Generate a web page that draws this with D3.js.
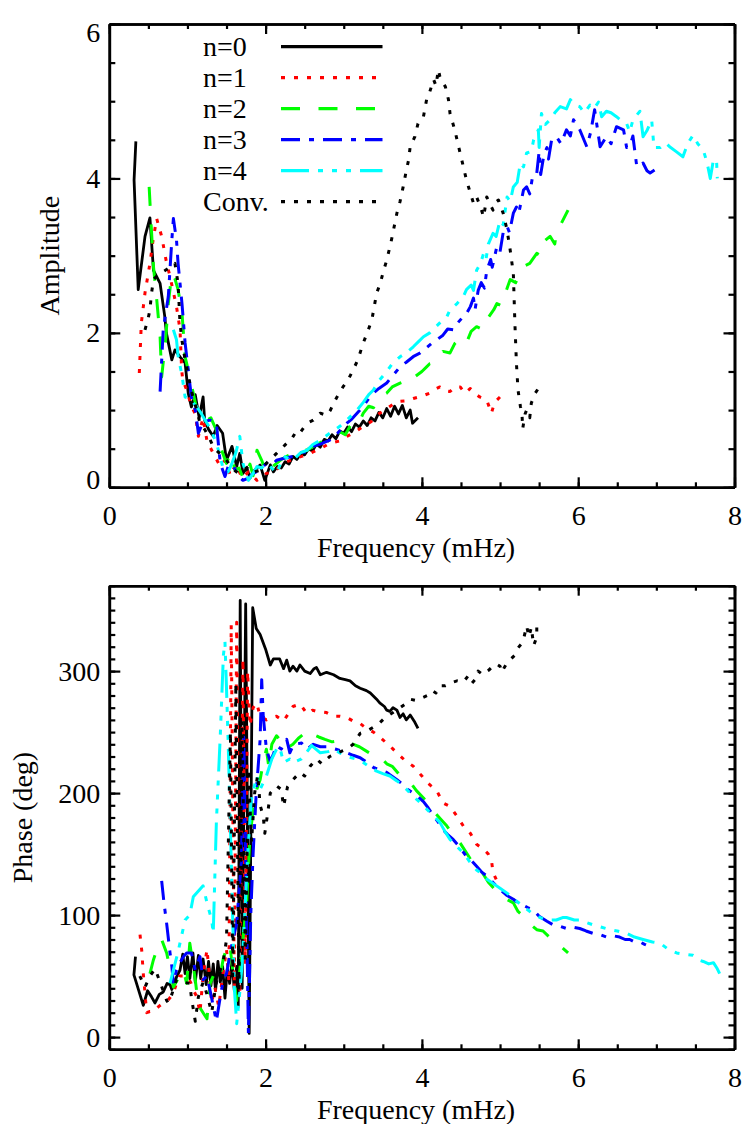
<!DOCTYPE html>
<html>
<head>
<meta charset="utf-8">
<script src="https://cdn.jsdelivr.net/npm/d3@7/dist/d3.min.js"></script>
<style>
  html, body { margin: 0; padding: 0; background: #fff; }
  svg { display: block; }
  svg text { font-family: "Liberation Serif", "Times New Roman", Times, serif !important; }
</style>
</head>
<body>
<svg id="chart" width="747" height="1124"></svg>
<script>
// ---------------- DATA ----------------
const seriesNames = ["n=0", "n=1", "n=2", "n=3", "n=4", "Conv."];
const freqTicks = [0, 2, 4, 6, 8];
const ampTicks = [0, 2, 4, 6];
const phaseTicks = [0, 100, 200, 300];

// Amplitude panel: [frequency (mHz), amplitude]
const amp0 = [[0.34,4.48],[0.317,3.98],[0.37,2.56],[0.457,3.25],[0.52,3.49],[0.565,2.81],[0.65,2.64],[0.71,2.21],[0.73,2.0],[0.8,1.65],[0.84,1.78],[0.905,1.69],[0.97,1.61],[1.01,1.22],[1.05,1.04],[1.1,1.2],[1.15,0.9],[1.2,1.17],[1.22,0.87],[1.27,0.75],[1.33,0.66],[1.38,0.8],[1.45,0.7],[1.5,0.35],[1.57,0.53],[1.63,0.27],[1.67,0.44],[1.71,0.18],[1.76,0.25],[1.8,0.12],[1.84,0.2],[1.93,0.29],[1.99,0.09],[2.06,0.29],[2.1,0.2],[2.15,0.27],[2.2,0.25],[2.25,0.33],[2.3,0.3],[2.35,0.4],[2.4,0.36],[2.45,0.44],[2.5,0.42],[2.55,0.5],[2.6,0.47],[2.65,0.56],[2.7,0.52],[2.75,0.62],[2.8,0.6],[2.85,0.68],[2.9,0.63],[2.95,0.73],[3.0,0.7],[3.05,0.78],[3.1,0.72],[3.15,0.82],[3.2,0.78],[3.25,0.86],[3.3,0.8],[3.35,0.9],[3.4,0.86],[3.45,0.97],[3.5,0.9],[3.55,1.02],[3.6,0.92],[3.65,1.05],[3.7,0.95],[3.75,1.06],[3.8,0.9],[3.85,1.0],[3.88,0.83],[3.95,0.9]];
const amp1 = [[0.384,1.48],[0.41,2.13],[0.457,2.52],[0.52,2.9],[0.56,3.2],[0.606,3.48],[0.67,3.25],[0.734,2.9],[0.777,2.73],[0.86,2.34],[0.905,2.04],[0.926,1.52],[0.94,1.39],[0.99,1.26],[1.05,1.05],[1.1,0.95],[1.14,0.66],[1.2,0.9],[1.25,0.6],[1.33,0.44],[1.42,0.27],[1.48,0.35],[1.55,0.15],[1.62,0.3],[1.7,0.12],[1.78,0.2],[1.89,0.09],[2.01,0.18],[2.1,0.2],[2.2,0.28],[2.27,0.33],[2.4,0.38],[2.57,0.44],[2.7,0.5],[2.82,0.57],[2.95,0.6],[3.04,0.66],[3.15,0.72],[3.25,0.79],[3.35,0.85],[3.46,0.96],[3.55,1.02],[3.68,1.11],[3.8,1.12],[3.89,1.15],[4.0,1.18],[4.1,1.22],[4.19,1.28],[4.23,1.3],[4.3,1.25],[4.36,1.24],[4.42,1.3],[4.49,1.3],[4.55,1.22],[4.62,1.28],[4.7,1.2],[4.74,1.17],[4.83,1.13],[4.89,0.96],[4.93,1.1],[4.96,1.13],[5.0,1.17]];
const amp2 = [[0.51,3.89],[0.53,3.5],[0.565,2.86],[0.607,2.43],[0.65,1.95],[0.67,1.43],[0.72,1.9],[0.755,2.38],[0.8,2.77],[0.84,2.7],[0.88,2.56],[0.93,2.26],[0.97,1.69],[1.03,1.43],[1.12,1.0],[1.18,0.95],[1.25,0.87],[1.3,0.9],[1.37,0.74],[1.43,0.5],[1.5,0.31],[1.55,0.45],[1.61,0.22],[1.66,0.25],[1.72,0.1],[1.8,0.3],[1.84,0.15],[1.89,0.48],[1.95,0.35],[2.01,0.18],[2.07,0.25],[2.14,0.31],[2.2,0.36],[2.27,0.4],[2.35,0.44],[2.45,0.5],[2.53,0.48],[2.61,0.53],[2.7,0.58],[2.78,0.62],[2.87,0.64],[2.95,0.72],[3.02,0.68],[3.08,0.79],[3.15,0.88],[3.2,0.85],[3.25,0.96],[3.32,1.05],[3.38,1.03],[3.46,1.17],[3.55,1.22],[3.62,1.3],[3.72,1.35],[3.8,1.38],[3.85,1.46],[3.92,1.44],[4.0,1.5],[4.06,1.56],[4.1,1.6],[4.18,1.62],[4.27,1.76],[4.36,1.74],[4.42,1.86],[4.49,1.93],[4.57,1.87],[4.63,2.02],[4.7,2.08],[4.79,2.04],[4.85,2.2],[4.92,2.3],[4.96,2.38],[5.02,2.35],[5.08,2.55],[5.13,2.69],[5.2,2.65],[5.3,2.86],[5.38,2.9],[5.47,3.03],[5.52,3.0],[5.58,3.2],[5.64,3.25],[5.7,3.15],[5.72,3.29],[5.8,3.45],[5.87,3.59]];
const amp3 = [[0.65,1.24],[0.69,2.04],[0.755,2.47],[0.8,3.2],[0.82,3.48],[0.86,3.2],[0.88,2.9],[0.93,2.38],[0.97,1.87],[1.01,1.52],[1.05,1.17],[1.1,1.0],[1.14,0.7],[1.2,0.85],[1.29,0.87],[1.37,0.83],[1.42,0.31],[1.48,0.14],[1.53,0.3],[1.59,0.27],[1.65,0.15],[1.71,0.09],[1.78,0.12],[1.84,0.18],[1.92,0.22],[2.01,0.31],[2.07,0.28],[2.14,0.35],[2.25,0.38],[2.35,0.4],[2.45,0.45],[2.53,0.46],[2.61,0.53],[2.7,0.56],[2.82,0.61],[2.92,0.7],[3.04,0.83],[3.1,0.88],[3.17,0.96],[3.25,1.05],[3.32,1.15],[3.38,1.22],[3.45,1.28],[3.55,1.35],[3.63,1.45],[3.72,1.56],[3.8,1.62],[3.9,1.7],[3.98,1.74],[4.05,1.8],[4.12,1.86],[4.19,1.91],[4.27,1.97],[4.33,2.05],[4.4,2.04],[4.45,2.12],[4.52,2.2],[4.57,2.25],[4.62,2.34],[4.66,2.45],[4.68,2.3],[4.72,2.55],[4.76,2.65],[4.8,2.58],[4.83,2.81],[4.88,2.95],[4.9,2.85],[4.96,3.12],[5.0,3.05],[5.04,3.3],[5.09,3.38],[5.12,3.3],[5.17,3.55],[5.21,3.63],[5.24,3.55],[5.3,3.85],[5.34,3.89],[5.38,3.8],[5.42,4.05],[5.47,4.07],[5.5,4.35],[5.52,4.05],[5.56,4.3],[5.6,4.4],[5.62,4.25],[5.66,4.5],[5.72,4.54],[5.78,4.45],[5.85,4.63],[5.9,4.55],[5.94,4.76],[6.02,4.63],[6.11,4.41],[6.16,4.6],[6.21,4.89],[6.28,4.41],[6.36,4.54],[6.42,4.45],[6.49,4.67],[6.58,4.63],[6.62,4.4],[6.66,4.41],[6.7,4.55],[6.75,4.15],[6.83,4.2],[6.88,4.1],[6.92,4.07],[6.98,4.11]];
const amp4 = [[0.82,2.04],[0.86,1.91],[0.88,1.7],[0.93,1.45],[0.97,1.17],[1.03,1.15],[1.12,1.04],[1.18,0.95],[1.25,0.83],[1.3,0.75],[1.37,0.57],[1.42,0.4],[1.46,0.22],[1.52,0.2],[1.57,0.31],[1.62,0.45],[1.67,0.66],[1.71,0.31],[1.78,0.09],[1.84,0.18],[1.89,0.27],[1.95,0.25],[2.01,0.31],[2.08,0.25],[2.14,0.18],[2.23,0.4],[2.35,0.35],[2.45,0.45],[2.53,0.48],[2.6,0.55],[2.7,0.61],[2.82,0.7],[2.95,0.79],[3.05,0.88],[3.17,1.0],[3.25,1.1],[3.32,1.2],[3.38,1.26],[3.45,1.38],[3.55,1.5],[3.62,1.6],[3.72,1.69],[3.8,1.74],[3.89,1.82],[3.95,1.88],[4.02,1.95],[4.1,2.0],[4.18,2.08],[4.25,2.15],[4.32,2.21],[4.36,2.3],[4.45,2.38],[4.53,2.47],[4.57,2.56],[4.63,2.62],[4.66,2.55],[4.7,2.81],[4.75,2.9],[4.79,3.03],[4.82,2.95],[4.85,3.15],[4.91,3.29],[4.95,3.25],[5.0,3.46],[5.04,3.4],[5.09,3.76],[5.13,3.7],[5.17,3.89],[5.22,3.95],[5.26,4.2],[5.3,4.15],[5.34,4.33],[5.4,4.35],[5.43,4.5],[5.49,4.63],[5.5,4.4],[5.53,4.84],[5.58,4.7],[5.64,4.76],[5.7,4.85],[5.77,4.93],[5.85,4.9],[5.9,5.02],[5.96,4.95],[6.02,4.93],[6.08,4.85],[6.15,4.95],[6.2,4.9],[6.26,4.99],[6.3,4.8],[6.36,4.87],[6.42,4.85],[6.49,4.8],[6.55,4.75],[6.62,4.71],[6.66,4.6],[6.7,4.76],[6.79,4.87],[6.83,4.54],[6.88,4.62],[6.94,4.76],[6.97,4.4],[7.05,4.4],[7.12,4.46],[7.17,4.41],[7.25,4.35],[7.34,4.28],[7.4,4.45],[7.47,4.56],[7.53,4.45],[7.6,4.37],[7.65,4.2],[7.69,4.0],[7.73,4.24],[7.77,4.24],[7.78,4.0]];
const ampConv = [[0.457,2.04],[0.5,2.2],[0.52,2.3],[0.54,2.51],[0.565,2.69],[0.62,2.75],[0.7,2.8],[0.78,2.85],[0.84,2.9],[0.88,2.64],[0.905,2.12],[0.93,1.9],[0.97,1.65],[1.03,1.35],[1.07,1.17],[1.12,1.0],[1.16,0.83],[1.22,0.75],[1.27,0.66],[1.32,0.55],[1.37,0.48],[1.43,0.42],[1.5,0.35],[1.57,0.25],[1.65,0.18],[1.72,0.22],[1.78,0.27],[1.85,0.2],[1.93,0.22],[2.01,0.31],[2.08,0.38],[2.14,0.44],[2.2,0.5],[2.27,0.57],[2.33,0.62],[2.4,0.74],[2.45,0.72],[2.5,0.79],[2.55,0.84],[2.61,0.87],[2.7,0.96],[2.78,0.93],[2.83,1.0],[2.87,1.09],[2.93,1.2],[2.99,1.3],[3.05,1.38],[3.12,1.52],[3.18,1.65],[3.25,1.87],[3.3,2.0],[3.36,2.17],[3.42,2.51],[3.47,2.65],[3.51,2.81],[3.55,2.94],[3.61,3.2],[3.68,3.55],[3.72,3.7],[3.76,3.89],[3.8,4.1],[3.83,4.24],[3.85,4.41],[3.91,4.54],[3.95,4.71],[4.02,4.8],[4.06,5.02],[4.1,5.12],[4.15,5.28],[4.18,5.2],[4.21,5.41],[4.23,5.32],[4.26,5.25],[4.3,5.19],[4.34,5.02],[4.36,4.84],[4.42,4.63],[4.47,4.41],[4.51,4.24],[4.57,3.98],[4.62,3.81],[4.66,3.68],[4.7,3.76],[4.75,3.63],[4.79,3.5],[4.83,3.76],[4.88,3.65],[4.91,3.59],[4.95,3.7],[4.98,3.72],[5.04,3.55],[5.09,3.33],[5.13,3.07],[5.17,2.77],[5.19,2.12],[5.21,1.6],[5.23,1.26],[5.26,1.05],[5.28,0.96],[5.29,0.76],[5.32,0.95],[5.34,1.0],[5.38,0.9],[5.4,1.09],[5.45,1.22],[5.49,1.28]];

// Phase panel: [frequency (mHz), phase (deg)]
const ph0 = [[0.335,66],[0.315,51],[0.435,26],[0.49,38],[0.54,33],[0.585,28],[0.64,35],[0.69,37],[0.74,44],[0.777,43],[0.8,39],[0.85,48],[0.905,55],[0.94,68],[0.97,52],[1.0,66],[1.03,48],[1.07,69],[1.1,45],[1.14,67],[1.17,48],[1.2,64],[1.24,43],[1.27,62],[1.3,42],[1.33,60],[1.36,38],[1.39,62],[1.42,45],[1.45,58],[1.48,32],[1.51,56],[1.54,44],[1.57,62],[1.6,38],[1.63,58],[1.65,25],[1.675,358],[1.7,40],[1.745,355],[1.79,3],[1.835,352],[1.88,335],[1.93,330],[2.0,318],[2.06,305],[2.1,310],[2.18,310],[2.23,302],[2.27,309],[2.31,300],[2.35,304],[2.4,300],[2.44,305],[2.5,300],[2.57,298],[2.62,302],[2.65,303],[2.7,297],[2.78,299],[2.87,297],[2.95,294],[3.02,293],[3.08,292],[3.15,288],[3.21,286],[3.29,284],[3.34,282],[3.42,277],[3.46,274],[3.52,271],[3.55,268],[3.59,267],[3.63,270],[3.68,268],[3.72,262],[3.76,265],[3.8,260],[3.85,264],[3.91,258],[3.95,253]];
const ph1 = [[0.393,84],[0.415,71],[0.435,52],[0.478,20],[0.52,21],[0.563,21],[0.63,25],[0.69,28],[0.75,30],[0.82,36],[0.86,44],[0.9,50],[0.99,50],[1.04,45],[1.08,38],[1.12,33],[1.16,20],[1.2,50],[1.25,72],[1.27,58],[1.31,28],[1.35,41],[1.4,25],[1.45,50],[1.5,72],[1.53,45],[1.56,338],[1.6,40],[1.63,340],[1.67,35],[1.71,310],[1.74,60],[1.77,300],[1.8,255],[1.84,270],[1.886,274],[1.93,263],[2.01,260],[2.08,262],[2.14,263],[2.23,259],[2.3,266],[2.35,271],[2.44,273],[2.53,265],[2.6,268],[2.65,267],[2.78,266],[2.87,263],[2.95,263],[3.04,262],[3.12,259],[3.21,257],[3.29,253],[3.38,250],[3.46,246],[3.53,242],[3.6,238],[3.68,233],[3.78,227],[3.89,222],[4.0,214],[4.08,208],[4.19,202],[4.27,192],[4.36,189],[4.45,181],[4.53,173],[4.62,167],[4.7,158],[4.79,154],[4.85,150],[4.89,145],[4.91,135],[4.96,128]];
const ph2 = [[0.52,52],[0.563,63],[0.6,70],[0.67,80],[0.734,69],[0.78,55],[0.82,41],[0.88,48],[0.947,55],[0.99,44],[1.03,77],[1.1,47],[1.14,26],[1.2,20],[1.25,15],[1.29,44],[1.33,50],[1.37,55],[1.42,50],[1.46,65],[1.5,72],[1.54,77],[1.58,55],[1.63,30],[1.67,55],[1.71,80],[1.76,113],[1.8,165],[1.84,185],[1.886,203],[1.93,211],[1.97,225],[2.01,236],[2.04,222],[2.08,240],[2.14,247],[2.18,244],[2.25,247],[2.3,238],[2.35,240],[2.42,245],[2.48,248],[2.55,244],[2.61,248],[2.68,246],[2.76,244],[2.85,242],[2.95,243],[3.08,241],[3.2,238],[3.3,234],[3.4,230],[3.46,230],[3.55,224],[3.62,222],[3.7,216],[3.76,213],[3.85,209],[3.93,202],[4.02,196],[4.1,189],[4.18,183],[4.25,178],[4.32,173],[4.4,166],[4.49,159],[4.57,151],[4.65,143],[4.72,137],[4.77,135],[4.85,127],[4.92,122],[5.0,118],[5.08,113],[5.17,110],[5.23,103],[5.3,99],[5.38,93],[5.47,88],[5.55,87],[5.63,82],[5.72,78],[5.8,73],[5.87,69]];
const ph3 = [[0.67,128],[0.7,110],[0.734,93],[0.777,69],[0.8,58],[0.82,44],[0.86,55],[0.905,61],[0.95,66],[0.99,69],[1.05,69],[1.1,55],[1.16,66],[1.2,47],[1.25,50],[1.3,35],[1.37,13],[1.42,33],[1.46,47],[1.5,52],[1.55,70],[1.6,85],[1.63,93],[1.66,120],[1.69,143],[1.71,214],[1.72,246],[1.78,3],[1.81,100],[1.84,150],[1.88,200],[1.93,244],[1.95,293],[1.97,263],[2.01,236],[2.06,226],[2.1,232],[2.14,239],[2.2,236],[2.27,244],[2.31,233],[2.36,240],[2.46,241],[2.53,236],[2.61,240],[2.7,238],[2.78,238],[2.9,236],[3.04,233],[3.12,231],[3.21,229],[3.3,225],[3.38,221],[3.46,219],[3.55,217],[3.59,215],[3.68,211],[3.76,207],[3.82,203],[3.89,200],[3.95,197],[4.02,193],[4.08,188],[4.15,181],[4.2,177],[4.27,170],[4.33,166],[4.4,162],[4.48,156],[4.57,148],[4.63,145],[4.7,140],[4.77,135],[4.83,132],[4.92,126],[5.0,121],[5.09,116],[5.17,113],[5.23,110],[5.3,108],[5.36,106],[5.43,104],[5.5,99],[5.6,95],[5.68,92],[5.76,91],[5.85,89],[5.94,90],[6.02,89],[6.1,87],[6.19,85],[6.28,84],[6.36,82],[6.45,83],[6.53,82],[6.6,80],[6.66,80],[6.72,78],[6.79,78],[6.85,76],[6.92,74],[6.94,73]];
const ph4 = [[0.777,44],[0.82,55],[0.88,70],[0.97,96],[1.03,100],[1.075,115],[1.2,124],[1.25,110],[1.31,96],[1.33,85],[1.37,176],[1.42,247],[1.46,313],[1.48,324],[1.5,285],[1.52,244],[1.57,121],[1.6,40],[1.63,11],[1.66,30],[1.7,60],[1.74,110],[1.78,160],[1.82,195],[1.886,214],[1.93,203],[2.01,214],[2.08,228],[2.14,236],[2.18,238],[2.23,225],[2.31,228],[2.35,225],[2.46,228],[2.59,239],[2.7,233],[2.8,234],[2.87,236],[2.95,233],[3.04,230],[3.15,228],[3.25,225],[3.34,221],[3.42,218],[3.5,216],[3.59,214],[3.68,210],[3.76,206],[3.85,200],[3.93,195],[4.0,191],[4.06,187],[4.15,181],[4.23,176],[4.3,168],[4.36,162],[4.45,156],[4.53,151],[4.62,143],[4.7,137],[4.74,135],[4.82,130],[4.91,126],[5.0,122],[5.09,118],[5.2,112],[5.3,107],[5.4,102],[5.51,98],[5.6,96],[5.72,96],[5.8,98],[5.85,98],[5.95,96],[6.02,96],[6.1,94],[6.19,92],[6.3,90],[6.41,88],[6.5,87],[6.62,85],[6.72,82],[6.83,80],[6.95,78],[7.05,77],[7.15,72],[7.26,69],[7.35,68],[7.47,67],[7.55,63],[7.6,62],[7.67,60],[7.73,61],[7.78,56],[7.81,52]];
const phConv = [[0.39,50],[0.457,41],[0.52,50],[0.585,56],[0.65,45],[0.734,30],[0.755,28],[0.8,35],[0.86,47],[0.95,45],[1.03,44],[1.05,33],[1.1,13],[1.14,33],[1.2,45],[1.25,35],[1.31,20],[1.37,45],[1.42,55],[1.46,63],[1.5,80],[1.55,250],[1.58,50],[1.62,290],[1.66,40],[1.7,260],[1.74,60],[1.78,220],[1.82,160],[1.86,200],[1.9,215],[1.93,190],[1.97,181],[1.99,167],[2.03,185],[2.06,200],[2.14,206],[2.2,203],[2.23,189],[2.28,205],[2.35,211],[2.44,217],[2.5,214],[2.57,222],[2.65,228],[2.72,224],[2.82,230],[2.92,233],[3.04,236],[3.12,240],[3.21,249],[3.3,251],[3.38,254],[3.45,257],[3.53,262],[3.63,266],[3.72,270],[3.81,274],[3.85,277],[3.92,276],[4.0,278],[4.07,280],[4.13,284],[4.18,282],[4.23,288],[4.3,288],[4.34,289],[4.4,291],[4.45,292],[4.53,291],[4.59,296],[4.64,290],[4.68,293],[4.72,300],[4.78,297],[4.81,299],[4.86,301],[4.89,303],[4.95,306],[5.0,304],[5.02,299],[5.09,307],[5.14,310],[5.19,313],[5.23,319],[5.27,322],[5.3,326],[5.34,337],[5.37,328],[5.4,336],[5.43,321],[5.47,328],[5.47,338]];

const ampSeries = [amp0, amp1, amp2, amp3, amp4, ampConv];
const phaseSeries = [ph0, ph1, ph2, ph3, ph4, phConv];

// ---------------- STYLE ----------------
const colors = ["#000000", "#ff0000", "#00ff00", "#0000ff", "#00ffff", "#000000"];
const dashes = [null, "4,9", "19,18.5", "19,9,5,9", "28,9,5,9,5,9,5,9", "4,9"];
const FONT = '"Liberation Serif", "Times New Roman", Times, serif';
const FS = 28;

const svg = d3.select("#chart");
svg.append("rect").attr("width", 747).attr("height", 1124).attr("fill", "#fff");

const x = d3.scaleLinear().domain([0, 8]).range([109.3, 734.5]);
const yA = d3.scaleLinear().domain([0, 6]).range([487.3, 24]);
const yP = d3.scaleLinear().domain([-10, 370]).range([1049.3, 585.7]);

const xMinor = d3.range(0, 8.001, 0.5);

function styleAxis(g) {
  g.attr("font-family", null).attr("font-size", FS).style("font-family", FONT);
  g.select(".domain").attr("stroke", "#000").attr("stroke-width", 2.6);
  g.selectAll(".tick line").attr("stroke", "#000").attr("stroke-width", 2.2);
  g.selectAll(".tick text").attr("fill", "#000").style("font-family", FONT);
}

function frame(y, yMajor, yMinor, labelShift) {
  const [y0, y1] = y.range();
  const [x0, x1] = x.range();
  const g = svg.append("g");
  g.append("g").attr("transform", `translate(0,${y0})`)
    .call(d3.axisBottom(x).tickValues(xMinor).tickSize(-5).tickSizeOuter(0).tickFormat(""))
    .call(styleAxis);
  g.append("g").attr("transform", `translate(0,${y0})`)
    .call(d3.axisBottom(x).tickValues(freqTicks).tickSize(-10).tickSizeOuter(0).tickPadding(18).tickFormat(d3.format("d")))
    .call(styleAxis);
  g.append("g").attr("transform", `translate(0,${y1})`)
    .call(d3.axisTop(x).tickValues(xMinor).tickSize(-5).tickSizeOuter(0).tickFormat(""))
    .call(styleAxis);
  g.append("g").attr("transform", `translate(0,${y1})`)
    .call(d3.axisTop(x).tickValues(freqTicks).tickSize(-10).tickSizeOuter(0).tickFormat(""))
    .call(styleAxis);
  g.append("g").attr("transform", `translate(${x0},0)`)
    .call(d3.axisLeft(y).tickValues(yMinor).tickSize(-6).tickSizeOuter(0).tickFormat(""))
    .call(styleAxis);
  const left = g.append("g").attr("transform", `translate(${x0},0)`)
    .call(d3.axisLeft(y).tickValues(yMajor).tickSize(-11).tickSizeOuter(0).tickPadding(9).tickFormat(d3.format("d")))
    .call(styleAxis);
  left.selectAll(".tick text").attr("transform", d => labelShift[d] ? `translate(0,${labelShift[d]})` : null);
  g.append("g").attr("transform", `translate(${x1},0)`)
    .call(d3.axisRight(y).tickValues(yMinor).tickSize(-6).tickSizeOuter(0).tickFormat(""))
    .call(styleAxis);
  g.append("g").attr("transform", `translate(${x1},0)`)
    .call(d3.axisRight(y).tickValues(yMajor).tickSize(-11).tickSizeOuter(0).tickFormat(""))
    .call(styleAxis);
}

function drawSeries(y, seriesList) {
  const line = d3.line().x(d => x(d[0])).y(d => y(d[1]));
  const g = svg.append("g");
  seriesList.forEach((data, i) => {
    g.append("path")
      .attr("d", line(data))
      .attr("fill", "none")
      .attr("stroke", colors[i])
      .attr("stroke-width", i === 0 ? 2.8 : 3)
      .attr("stroke-linejoin", "round")
      .attr("stroke-dasharray", dashes[i]);
  });
}

// ---- Top panel (Amplitude) ----
drawSeries(yA, ampSeries);
frame(yA, ampTicks, d3.range(0, 6.001, 0.5), {6: 9, 0: -8});

// Legend
const legY = d3.scalePoint().domain(seriesNames).range([46.7, 201.7]);
const leg = svg.append("g");
seriesNames.forEach((name, i) => {
  leg.append("text")
    .attr("x", 203).attr("y", legY(name)).attr("dy", "0.32em")
    .style("font-family", FONT).attr("font-size", FS).attr("fill", "#000")
    .text(name);
  leg.append("line")
    .attr("x1", 281).attr("x2", 382.5)
    .attr("y1", legY(name)).attr("y2", legY(name))
    .attr("stroke", colors[i]).attr("stroke-width", 3.2)
    .attr("stroke-dasharray", dashes[i]);
});

// ---- Bottom panel (Phase) ----
drawSeries(yP, phaseSeries);
frame(yP, phaseTicks, d3.range(-10, 370.001, 10), {});

// Axis titles
function title(txt, tx, ty, rot) {
  svg.append("text")
    .attr("transform", `translate(${tx},${ty})` + (rot ? " rotate(-90)" : ""))
    .attr("text-anchor", "middle")
    .style("font-family", FONT).attr("font-size", FS).attr("fill", "#000")
    .text(txt);
}
title("Frequency (mHz)", 416, 557, false);
title("Frequency (mHz)", 416, 1119, false);
title("Amplitude", 59, 255.6, true);
title("Phase (deg)", 32, 817.5, true);
</script>
</body>
</html>
